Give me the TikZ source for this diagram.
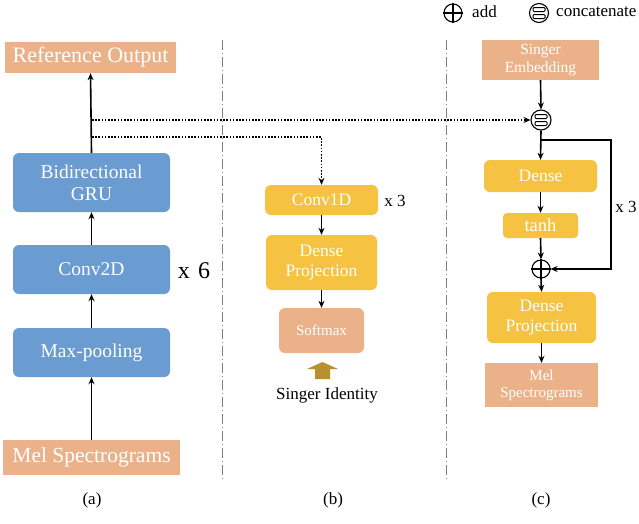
\documentclass[tikz,border=0pt]{standalone}
\usepackage{fontspec}
\setmainfont{Liberation Serif}
\usetikzlibrary{arrows.meta}

\definecolor{salmon}{HTML}{EBB28A}
\definecolor{bluebx}{HTML}{6A9BD1}
\definecolor{yellowbx}{HTML}{F5C242}
\definecolor{goldarr}{HTML}{B8902E}

\tikzset{
  box/.style={inner sep=0pt, text=white, align=center},
  bluebox/.style={box, fill=bluebx, rounded corners=6pt, minimum width=157pt, font=\fontsize{19.5}{22}\selectfont},
  yelbox/.style={box, fill=yellowbx, rounded corners=6pt, font=\fontsize{17.5}{20}\selectfont},
  salbox/.style={box, fill=salmon},
  lbl/.style={inner sep=0pt, font=\fontsize{17}{20}\selectfont},
  arr/.style={line width=1.6pt, -{Stealth[length=7pt,width=6pt]}},
  dotarr/.style={line width=1.6pt, dash pattern=on 1.6pt off 1.6pt, -{Stealth[length=7pt,width=6pt]}},
  sep/.style={gray, line width=0.8pt, dash pattern=on 10pt off 3pt on 1pt off 3pt},
  opcirc/.style={circle, draw, line width=1.1pt, inner sep=0pt, minimum size=#1}
}

\begin{document}
\begin{tikzpicture}[x=1pt,y=-1pt]
  \useasboundingbox (0,0) rectangle (639,523);

  % separators
  \draw[sep] (222,40) -- (222,482);
  \draw[sep] (446,40) -- (446,482);

  % (a) reference encoder
  \node[salbox, minimum width=171pt, minimum height=31pt, font=\fontsize{22}{24}\selectfont] (refout) at (90.5,57.5) {Reference Output};
  \node[bluebox, minimum height=59pt] (gru)     at (91.5,182.5) {Bidirectional\\GRU};
  \node[bluebox, minimum height=49pt] (conv2d)  at (91.5,269.5) {Conv2D};
  \node[bluebox, minimum height=49pt] (maxpool) at (91.5,352.5) {Max-pooling};
  \node[salbox, minimum width=177pt, minimum height=35pt, font=\fontsize{21.5}{24}\selectfont] (melA) at (91.5,457.5) {Mel Spectrograms};
  \node[lbl, font=\fontsize{24}{26}\selectfont] (xsix) at (194,271) {x\hspace{0.35em}6};
  \node[lbl] (capA) at (92,500) {(a)};

  \draw[arr] (melA.north)    -- (maxpool.south);
  \draw[arr] (maxpool.north) -- (conv2d.south);
  \draw[arr] (conv2d.north)  -- (gru.south);
  \draw[arr] (gru.north)     -- (refout.south);

  \coordinate (tapc) at (92,120);
  \coordinate (tapb) at (92,137);

  % (b) singer classifier
  \node[yelbox, minimum width=113pt, minimum height=30pt] (conv1d) at (321.5,200) {Conv1D};
  \node[yelbox, minimum width=111pt, minimum height=55pt] (denseB) at (321.5,262.5) {Dense\\Projection};
  \node[salbox, rounded corners=6pt, minimum width=85pt, minimum height=45pt, font=\fontsize{15}{17}\selectfont] (softmax) at (321.5,330.5) {Softmax};
  \node[lbl] (xthreeb) at (395,201) {x 3};
  \fill[goldarr] (315,379) -- (315,369) -- (307,369) -- (322.5,362) -- (338,369) -- (330,369) -- (330,379) -- cycle;
  \node[lbl] (singid) at (327,395) {Singer Identity};
  \node[lbl] (capB) at (333,500) {(b)};

  \draw[dotarr] (tapb) -| (conv1d.north);
  \draw[arr] (conv1d.south) -- (denseB.north);
  \draw[arr] (denseB.south) -- (softmax.north);

  % (c) decoder
  \node[opcirc=18pt] (legadd) at (453,13) {};
  \draw[line width=1.1pt] (legadd.north) -- (legadd.south) (legadd.west) -- (legadd.east);
  \node[lbl, anchor=west] (addtxt) at (472,12) {add};
  \node[opcirc=19pt] (legcat) at (539,13) {};
  \draw[line width=1pt, rounded corners=1pt] (533,7.5) rectangle (545,11.5) (533,14.5) rectangle (545,18.5);
  \node[lbl, anchor=west] (cattxt) at (556,12) {concatenate};

  \node[salbox, minimum width=117pt, minimum height=40pt, font=\fontsize{15.5}{18}\selectfont] (singemb) at (540.5,60) {Singer\\Embedding};
  \node[opcirc=20pt] (concat) at (541,120) {};
  \draw[line width=1pt, rounded corners=1pt] (535,114.5) rectangle (547,118.5) (535,121.5) rectangle (547,125.5);
  \node[yelbox, minimum width=113pt, minimum height=32pt] (dense) at (540.5,176) {Dense};
  \node[yelbox, minimum width=75pt, minimum height=25pt, rounded corners=4pt, font=\fontsize{18.5}{20}\selectfont] (tanh) at (540.5,225.5) {tanh};
  \node[opcirc=18pt] (addc) at (541,269) {};
  \draw[line width=1.1pt] (addc.north) -- (addc.south) (addc.west) -- (addc.east);
  \node[yelbox, minimum width=109pt, minimum height=51pt] (denseC) at (541.5,317.5) {Dense\\Projection};
  \node[salbox, minimum width=113pt, minimum height=44pt, font=\fontsize{15}{17}\selectfont] (melC) at (541.5,385) {Mel\\Spectrograms};
  \node[lbl] (xthreec) at (626,207) {x 3};
  \node[lbl] (capC) at (541,500) {(c)};

  \draw[dotarr] (tapc) -- (concat.west);
  \draw[arr] (singemb.south) -- (concat.north);
  \draw[arr] (concat.south) -- (dense.north);
  \draw[arr] (dense.south) -- (tanh.north);
  \draw[arr] (tanh.south) -- (addc.north);
  \draw[arr] (addc.south) -- (denseC.north);
  \draw[arr] (denseC.south) -- (melC.north);

  \coordinate (split) at (541,140);
  \coordinate (loopend) at (611,269);
  \draw[arr] (split) -| (loopend) -- (addc.east);
\end{tikzpicture}
\end{document}
